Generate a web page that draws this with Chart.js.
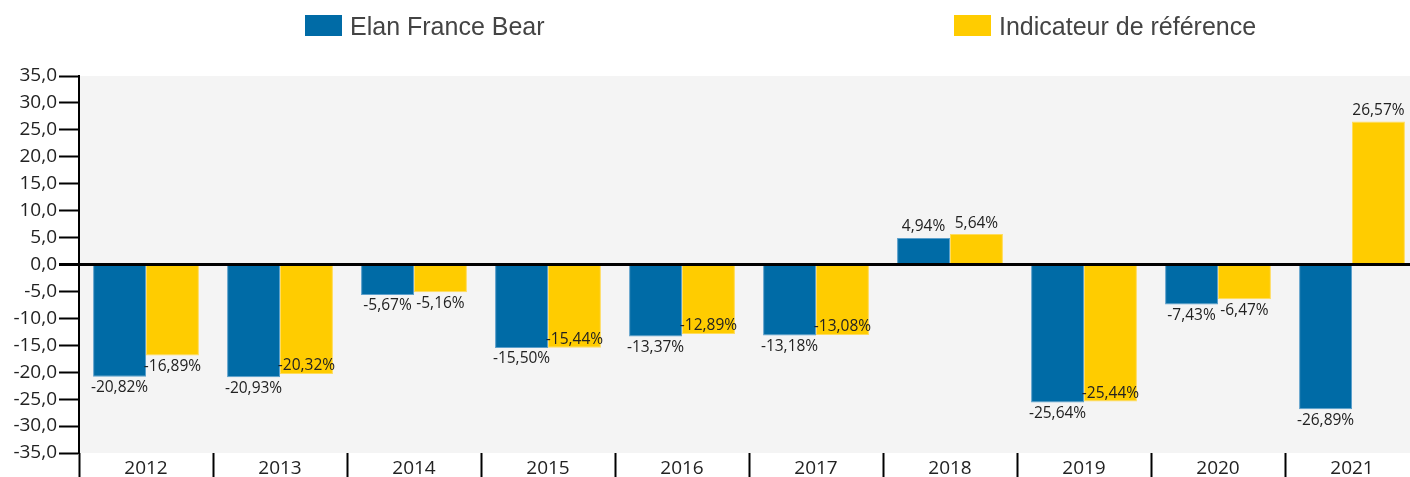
<!DOCTYPE html>
<html>
<head>
<meta charset="utf-8">
<script src="https://cdn.jsdelivr.net/npm/chart.js@4"></script>
<style>
    body { margin: 0; overflow: hidden; background: #fff; }
    #wrap { position: relative; width: 1420px; height: 477px; }
    .legend { position: absolute; top: 0; left: 0; font-family: "Liberation Sans", Arial, sans-serif; font-size: 25px; color: #444; }
    .item { position: absolute; top: 12px; white-space: nowrap; }
    .box { position: absolute; top: 3px; width: 37px; height: 21px; }
    .label { position: absolute; left: 45px; top: 0; line-height: 28px; }
</style>
</head>
<body>
<div id="wrap">
    <canvas id="barChart" width="1420" height="477"></canvas>
    <div class="legend" id="legend"></div>
</div>
<script>
const years = ['2012', '2013', '2014', '2015', '2016', '2017', '2018', '2019', '2020', '2021'];
const fundValues = [-20.82, -20.93, -5.67, -15.50, -13.37, -13.18, 4.94, -25.64, -7.43, -26.89];
const benchmarkValues = [-16.89, -20.32, -5.16, -15.44, -12.89, -13.08, 5.64, -25.44, -6.47, 26.57];
const seriesNames = ['Elan France Bear', 'Indicateur de référence'];
const seriesColors = ['#006ba6', '#ffcc00'];
const seriesBorders = ['#5b9fcb', '#ffdc5c'];
const legendLeft = [305, 954];

Chart.defaults.font.family = '"Open Sans", "Noto Sans", sans-serif';
Chart.defaults.color = '#222';

// legend as html so the spacing can match
const legend = document.getElementById('legend');
seriesNames.forEach((name, i) => {
    const item = document.createElement('div');
    item.className = 'item';
    item.style.left = legendLeft[i] + 'px';
    item.innerHTML = '<span class="box" style="background:' + seriesColors[i] + '"></span><span class="label">' + name + '</span>';
    legend.appendChild(item);
});

const fmt = (v, d) => v.toFixed(d).replace('.', ',');

const plotBackground = {
    id: 'plotBackground',
    beforeDraw(chart) {
        const a = chart.chartArea;
        const ctx = chart.ctx;
        ctx.save();
        ctx.fillStyle = '#f4f4f4';
        ctx.fillRect(a.left, a.top, a.right - a.left, a.bottom - a.top);
        ctx.restore();
    }
};

// value labels: outside the bar end, second series moved inside if it hits the first one
const valueLabels = {
    id: 'valueLabels',
    afterDatasetsDraw(chart) {
        const ctx = chart.ctx;
        ctx.save();
        ctx.font = '15.5px "Open Sans", "Noto Sans", sans-serif';
        ctx.fillStyle = '#222';
        ctx.textAlign = 'center';
        ctx.textBaseline = 'middle';
        const h = 17;
        const placed = [];
        chart.data.datasets.forEach((ds, i) => {
            chart.getDatasetMeta(i).data.forEach((bar, j) => {
                const v = ds.data[j];
                const text = fmt(v, 2) + '%';
                const w = ctx.measureText(text).width;
                let y = v >= 0 ? bar.y - 11 : bar.y + 11;
                if (i > 0 && placed[j]) {
                    const p = placed[j];
                    const hitX = Math.abs(p.x - bar.x) < (p.w + w) / 2;
                    const hitY = Math.abs(p.y - y) < h;
                    if (hitX && hitY) {
                        y = v >= 0 ? bar.y + 8 : bar.y - 8;
                    }
                }
                if (i === 0) placed[j] = { x: bar.x, y: y, w: w };
                ctx.fillText(text, bar.x, y);
            });
        });
        ctx.restore();
    }
};

const barChartData = {
    labels: years,
    datasets: [
        { label: seriesNames[0], data: fundValues, backgroundColor: seriesColors[0], borderColor: seriesBorders[0], borderWidth: 1 },
        { label: seriesNames[1], data: benchmarkValues, backgroundColor: seriesColors[1], borderColor: seriesBorders[1], borderWidth: 1 }
    ]
};

const barChartConfig = {
    type: 'bar',
    data: barChartData,
    options: {
        responsive: false,
        animation: false,
        datasets: {
            bar: {
                categoryPercentage: 0.79,
                barPercentage: 1.0
            }
        },
        layout: {
            padding: {
                top: 76,
                bottom: 0,
                left: 0,
                right: 1
            }
        },
        plugins: {
            legend: {
                display: false
            },
            tooltip: {
                enabled: false
            }
        },
        scales: {
            x: {
                afterFit: (scale) => { scale.height = 24; },
                border: { display: false },
                grid: {
                    drawOnChartArea: false,
                    tickLength: 24,
                    tickColor: '#000',
                    tickWidth: 2
                },
                ticks: {
                    padding: -20,
                    font: { size: 19 },
                    color: '#222'
                }
            },
            y: {
                min: -35,
                max: 35,
                afterFit: (scale) => { scale.width = 79; },
                border: { display: true, color: '#000', width: 2 },
                grid: {
                    color: (c) => c.tick && c.tick.value === 0 ? '#000' : 'rgba(0,0,0,0)',
                    lineWidth: (c) => c.tick && c.tick.value === 0 ? 3 : 1,
                    tickLength: 20,
                    tickColor: '#000',
                    tickWidth: (c) => c.tick && c.tick.value === 0 ? 3 : 2
                },
                ticks: {
                    stepSize: 5,
                    padding: 2,
                    font: { size: 19 },
                    color: '#222',
                    callback: (v) => fmt(v, 1)
                }
            }
        }
    },
    plugins: [plotBackground, valueLabels]
};

const barChart = new Chart(document.getElementById('barChart'), barChartConfig);
</script>
</body>
</html>
